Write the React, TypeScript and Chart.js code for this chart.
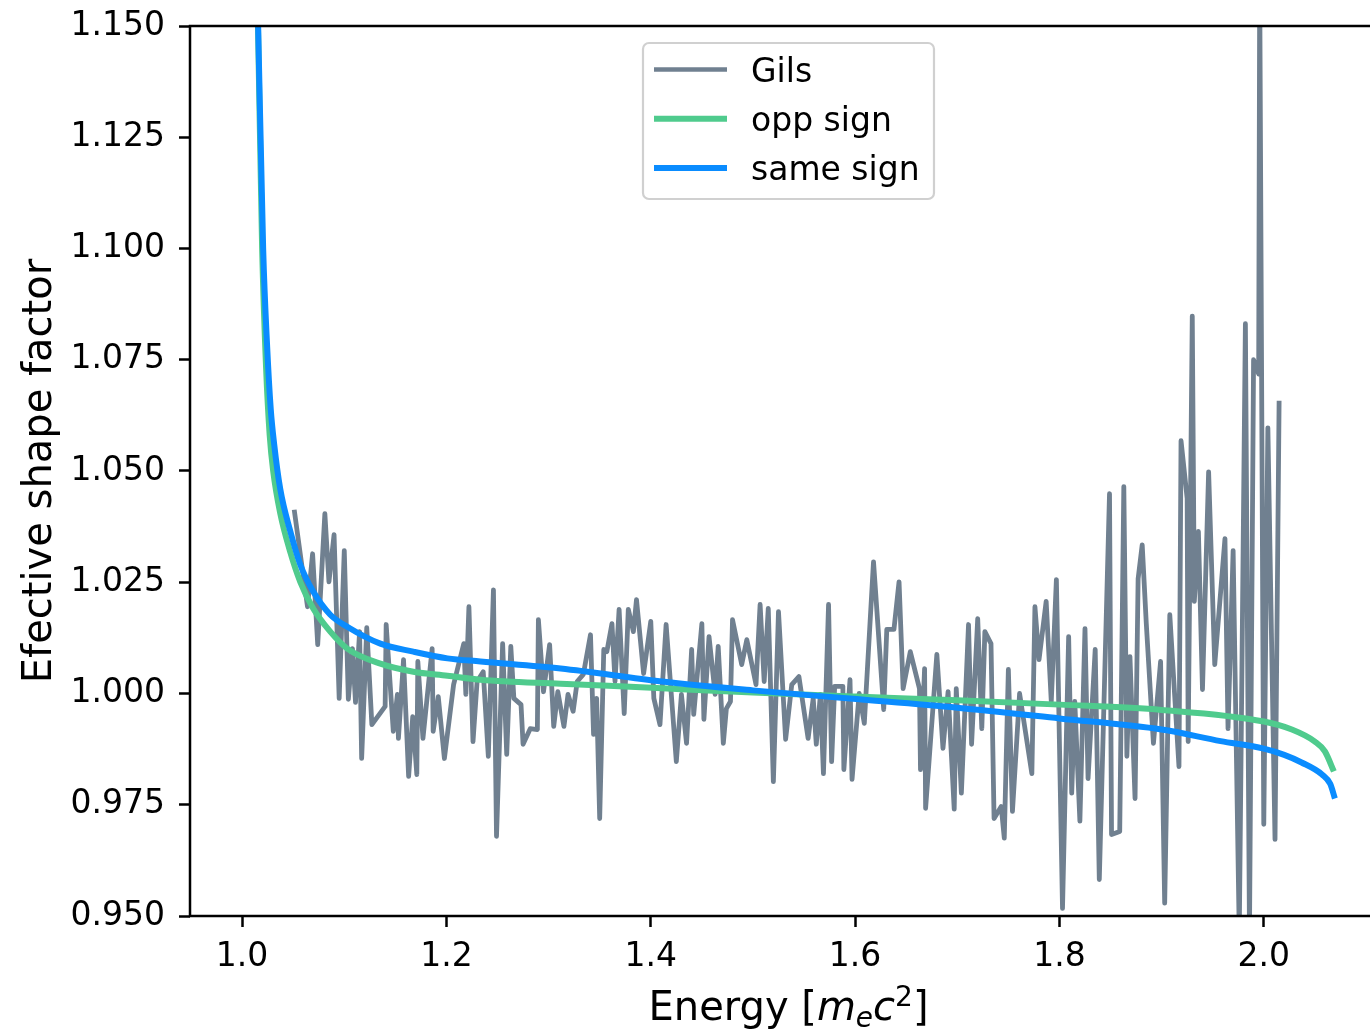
import React, { useEffect, useRef } from "react";
import { Chart, registerables } from "chart.js";

Chart.register(...registerables);

// ---------------- data ----------------
const seriesLabels = ["Gils", "opp sign", "same sign"];
const seriesColors = ["#708090", "#4fcb8d", "#0a8cff"];

const gilsEnergy = [
  1.051, 1.064, 1.069, 1.074, 1.081, 1.085, 1.09, 1.095, 1.1, 1.104, 1.108, 1.111, 1.115, 1.117, 1.122, 1.127,
  1.14, 1.141, 1.148, 1.152, 1.153, 1.158, 1.163, 1.167, 1.171, 1.172, 1.177, 1.186, 1.187, 1.192, 1.198, 1.207,
  1.217, 1.219, 1.222, 1.226, 1.23, 1.236, 1.241, 1.246, 1.249, 1.255, 1.259, 1.263, 1.266, 1.273, 1.275, 1.282,
  1.289, 1.29, 1.295, 1.301, 1.305, 1.309, 1.315, 1.319, 1.324, 1.328, 1.334, 1.341, 1.344, 1.347, 1.35, 1.354,
  1.357, 1.362, 1.365, 1.369, 1.374, 1.378, 1.383, 1.386, 1.393, 1.4, 1.403, 1.409, 1.415, 1.425, 1.43, 1.435,
  1.44, 1.442, 1.45, 1.452, 1.457, 1.463, 1.466, 1.471, 1.474, 1.478, 1.48, 1.489, 1.494, 1.503, 1.507, 1.511,
  1.515, 1.52, 1.525, 1.532, 1.538, 1.545, 1.554, 1.559, 1.562, 1.566, 1.569, 1.574, 1.577, 1.58, 1.588, 1.589,
  1.595, 1.597, 1.604, 1.609, 1.618, 1.628, 1.631, 1.638, 1.643, 1.647, 1.654, 1.663, 1.664, 1.668, 1.669, 1.68,
  1.686, 1.691, 1.697, 1.699, 1.704, 1.711, 1.714, 1.72, 1.724, 1.727, 1.733, 1.736, 1.743, 1.746, 1.75, 1.754,
  1.761, 1.773, 1.776, 1.78, 1.787, 1.792, 1.797, 1.803, 1.809, 1.812, 1.815, 1.82, 1.825, 1.828, 1.835, 1.839,
  1.849, 1.851, 1.859, 1.863, 1.866, 1.869, 1.874, 1.877, 1.881, 1.885, 1.892, 1.899, 1.903, 1.908, 1.917, 1.919,
  1.925, 1.926, 1.93, 1.932, 1.936, 1.94, 1.946, 1.952, 1.962, 1.965, 1.97, 1.976, 1.982, 1.986, 1.99, 1.995,
  1.996, 2.0, 2.004, 2.011, 2.015,
];
const gilsValue = [
  1.0413, 1.0195, 1.0314, 1.011, 1.0404, 1.0251, 1.0357, 0.9989, 1.0321, 0.9987, 1.0101, 0.998, 1.0139, 0.9854, 1.0148, 0.993,
  0.9971, 1.0155, 0.9915, 0.9998, 0.9899, 1.0076, 0.9814, 0.9948, 0.9818, 1.0072, 0.9899, 1.0101, 0.9915, 0.9993, 0.9854, 1.002,
  1.0112, 0.9998, 1.0195, 0.9892, 1.0027, 1.0049, 0.9859, 1.0233, 0.9679, 1.0112, 0.9863, 1.0106, 0.9989, 0.9975, 0.9886, 0.9921,
  0.9919, 1.0166, 1.0004, 1.011, 0.9926, 1.0004, 0.9926, 0.9998, 0.996, 1.0027, 1.0043, 1.0132, 0.9908, 0.9989, 0.9719, 1.0099,
  1.0094, 1.0157, 1.0027, 1.0189, 0.9955, 1.0189, 1.0139, 1.0211, 1.0045, 1.0162, 0.9989, 0.993, 1.0155, 0.9847, 0.9998, 0.9888,
  1.0099, 0.9953, 1.0157, 0.9942, 1.0128, 0.9998, 1.0106, 0.9888, 0.9966, 0.9982, 1.0166, 1.0065, 1.0121, 1.002, 1.02, 1.0027,
  1.0191, 0.9802, 1.0184, 0.9897, 1.002, 1.0038, 0.9899, 0.9989, 0.9886, 0.9998, 0.982, 1.02, 0.9847, 1.0016, 1.0016, 0.9829,
  1.0031, 0.9807, 1.0, 0.9933, 1.0296, 0.9964, 1.0144, 1.0144, 1.0251, 1.0011, 1.0094, 1.0011, 0.9829, 1.0056, 0.9742, 1.0088,
  0.9877, 1.0004, 0.974, 1.0011, 0.9776, 1.0155, 0.9886, 1.0168, 0.9921, 1.0139, 1.0112, 0.9719, 0.9746, 0.9675, 1.0054, 0.9735,
  1.0, 0.982, 1.0195, 1.0076, 1.0207, 0.9982, 1.0256, 0.9517, 1.0128, 0.9776, 0.9982, 0.9713, 1.0146, 0.9809, 1.0099, 0.9582,
  1.0449, 0.9683, 0.969, 1.0465, 0.9859, 1.0083, 0.9764, 1.0258, 1.0334, 1.0157, 0.9888, 1.0072, 0.9529, 1.0177, 0.9836, 1.0568,
  1.0438, 0.9892, 1.0848, 1.0207, 1.0364, 1.0009, 1.0498, 1.0065, 1.0348, 0.9921, 1.0321, 0.946, 1.0831, 0.946, 1.075, 1.0718,
  1.16, 0.9706, 1.0597, 0.9672, 1.0658,
];

const oppEnergy = [
  1.0135, 1.0157, 1.0196, 1.0235, 1.027, 1.0304, 1.0373, 1.0471, 1.0569, 1.0696, 1.0863, 1.1029, 1.1353, 1.1676,
  1.201, 1.2333, 1.3118, 1.401, 1.5, 1.6, 1.7, 1.8, 1.9, 2.0, 2.0275, 2.05, 2.0598, 2.0686,
];
const oppValue = [
  1.17, 1.148, 1.1, 1.073, 1.058, 1.05, 1.0405, 1.0318, 1.0251, 1.0191, 1.0139, 1.0101, 1.0067, 1.0049,
  1.004, 1.0031, 1.0022, 1.0013, 1.0002, 0.9993, 0.9985, 0.9975, 0.9963, 0.9937, 0.9919, 0.9892, 0.987, 0.9825,
];

const sameEnergy = [
  1.0135, 1.0157, 1.0206, 1.0245, 1.028, 1.0314, 1.0373, 1.0471, 1.0569, 1.0696, 1.0863, 1.1029, 1.1353, 1.1676,
  1.201, 1.2333, 1.3118, 1.4108, 1.5, 1.598, 1.7, 1.8, 1.9, 1.9578, 2.0, 2.02, 2.037, 2.057, 2.065, 2.0696,
];
const sameValue = [
  1.172, 1.15, 1.1, 1.078, 1.064, 1.056, 1.046, 1.0365, 1.029, 1.0229, 1.0177, 1.015, 1.0112, 1.0094,
  1.0079, 1.0072, 1.0056, 1.0027, 1.0007, 0.9988, 0.9968, 0.9944, 0.9919, 0.9893, 0.9876, 0.9862, 0.9845, 0.9818, 0.9797, 0.9764,
];

const xTickValues = [1.0, 1.2, 1.4, 1.6, 1.8, 2.0];
const yTickValues = [0.95, 0.975, 1.0, 1.025, 1.05, 1.075, 1.1, 1.125, 1.15];
const xRange = [0.949, 2.1206];
const yRange = [0.95, 1.15];

const FONT = "'DejaVu Sans', sans-serif";

const toPoints = (xs: number[], ys: number[]) => xs.map((x, i) => ({ x, y: ys[i] }));

const decorPlugin = {
  id: "decor",
  afterDraw(chart: any) {
    const { ctx, chartArea } = chart;
    const { left, top, right, bottom } = chartArea;
    ctx.save();
    // frame (spines)
    ctx.strokeStyle = "#000";
    ctx.lineWidth = 2.5;
    ctx.strokeRect(left, top, right - left, bottom - top);

    // legend
    const bw = 291;
    const bh = 156;
    const bx = (left + right) / 2 - bw / 2;
    const by = top + 17;
    ctx.beginPath();
    (ctx as any).roundRect(bx, by, bw, bh, 6);
    ctx.fillStyle = "rgba(255,255,255,0.8)";
    ctx.fill();
    ctx.strokeStyle = "#d0d0d0";
    ctx.lineWidth = 2.2;
    ctx.stroke();
    const widths = [4.5, 6, 6];
    seriesLabels.forEach((lab, i) => {
      const ry = by + 26.5 + i * 49.3;
      ctx.beginPath();
      ctx.strokeStyle = seriesColors[i];
      ctx.lineWidth = widths[i];
      ctx.lineCap = "butt";
      ctx.moveTo(bx + 11, ry);
      ctx.lineTo(bx + 84, ry);
      ctx.stroke();
      ctx.fillStyle = "#000";
      ctx.font = `33px ${FONT}`;
      ctx.textAlign = "left";
      ctx.textBaseline = "alphabetic";
      ctx.fillText(lab, bx + 108, ry + 12);
    });

    // y-axis title
    ctx.save();
    ctx.translate(51, (top + bottom) / 2);
    ctx.rotate(-Math.PI / 2);
    ctx.font = `40px ${FONT}`;
    ctx.textAlign = "center";
    ctx.textBaseline = "alphabetic";
    ctx.fillStyle = "#000";
    ctx.fillText("Efective shape factor", 0, 0);
    ctx.restore();

    // x-axis title: Energy [m_e c^2]
    const parts = [
      { t: "Energy [", f: `40px ${FONT}`, dy: 0 },
      { t: "m", f: `italic 40px ${FONT}`, dy: 0 },
      { t: "e", f: `italic 28px ${FONT}`, dy: 7 },
      { t: "c", f: `italic 40px ${FONT}`, dy: 0 },
      { t: "2", f: `28px ${FONT}`, dy: -14 },
      { t: "]", f: `40px ${FONT}`, dy: 0 },
    ];
    let total = 0;
    const ws = parts.map((p) => {
      ctx.font = p.f;
      const w = ctx.measureText(p.t).width;
      total += w;
      return w;
    });
    let cx = (left + right) / 2 - total / 2;
    const baseY = 1020;
    ctx.textAlign = "left";
    ctx.textBaseline = "alphabetic";
    ctx.fillStyle = "#000";
    parts.forEach((p, i) => {
      ctx.font = p.f;
      ctx.fillText(p.t, cx, baseY + p.dy);
      cx += ws[i];
    });
    ctx.restore();
  },
};

export default function App() {
  const ref = useRef<HTMLCanvasElement | null>(null);

  useEffect(() => {
    if (!ref.current) return;
    const chart = new Chart(ref.current, {
      type: "line",
      data: {
        datasets: [
          {
            label: seriesLabels[0],
            data: toPoints(gilsEnergy, gilsValue),
            borderColor: seriesColors[0],
            borderWidth: 4.8,
            pointRadius: 0,
            tension: 0,
            fill: false,
            borderJoinStyle: "round",
            order: 2,
          },
          {
            label: seriesLabels[1],
            data: toPoints(oppEnergy, oppValue),
            borderColor: seriesColors[1],
            borderWidth: 6,
            pointRadius: 0,
            cubicInterpolationMode: "monotone",
            fill: false,
            borderJoinStyle: "round",
            order: 1,
          },
          {
            label: seriesLabels[2],
            data: toPoints(sameEnergy, sameValue),
            borderColor: seriesColors[2],
            borderWidth: 6,
            pointRadius: 0,
            cubicInterpolationMode: "monotone",
            fill: false,
            borderJoinStyle: "round",
            order: 0,
          },
        ],
      },
      options: {
        responsive: false,
        animation: false,
        devicePixelRatio: 1,
        layout: { padding: { top: 26, right: 8, left: 0, bottom: 0 } },
        plugins: { legend: { display: false }, tooltip: { enabled: false } },
        scales: {
          x: {
            type: "linear",
            min: xRange[0],
            max: xRange[1],
            afterBuildTicks: (s: any) => {
              s.ticks = xTickValues.map((v) => ({ value: v }));
            },
            afterFit: (s: any) => {
              s.height = 117;
              s.paddingLeft = 0;
              s.paddingRight = 0;
            },
            ticks: {
              callback: (v: any) => Number(v).toFixed(1),
              color: "#000",
              font: { family: FONT, size: 33 },
              padding: 11,
              maxRotation: 0,
              autoSkip: false,
            },
            grid: {
              drawOnChartArea: false,
              drawTicks: true,
              tickLength: 11,
              tickWidth: 2.5,
              tickColor: "#000",
            },
            border: { display: false },
          },
          y: {
            type: "linear",
            min: yRange[0],
            max: yRange[1],
            afterBuildTicks: (s: any) => {
              s.ticks = yTickValues.map((v) => ({ value: v }));
            },
            afterFit: (s: any) => {
              s.width = 190;
              s.paddingTop = 0;
              s.paddingBottom = 0;
            },
            ticks: {
              callback: (v: any) => Number(v).toFixed(3),
              color: "#000",
              font: { family: FONT, size: 33 },
              padding: 14,
              autoSkip: false,
            },
            grid: {
              drawOnChartArea: false,
              drawTicks: true,
              tickLength: 11,
              tickWidth: 2.5,
              tickColor: "#000",
            },
            border: { display: false },
          },
        },
      },
      plugins: [decorPlugin],
    } as any);
    return () => chart.destroy();
  }, []);

  return (
    <div
      style={{
        position: "absolute",
        left: 0,
        top: 0,
        width: 1370,
        height: 1033,
        overflow: "hidden",
        background: "#fff",
      }}
    >
      <canvas ref={ref} width={1395} height={1033} style={{ display: "block" }} />
    </div>
  );
}
